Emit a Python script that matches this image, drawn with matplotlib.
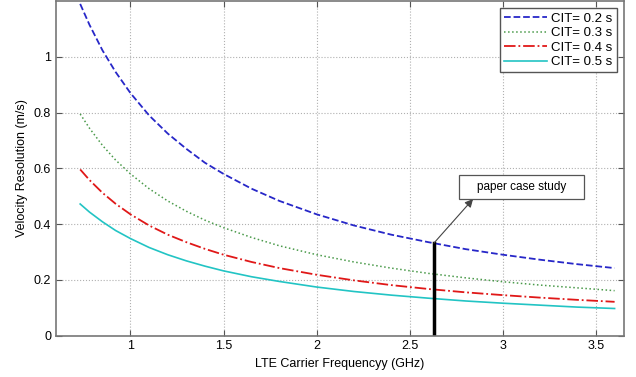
import numpy as np
import matplotlib
matplotlib.use('Agg')
import matplotlib.pyplot as plt
from matplotlib.patches import Rectangle

plt.rcParams['font.family'] = ['Liberation Sans', 'DejaVu Sans']

# carrier frequency (GHz) and velocity resolution (m/s)
freq = [0.73, 0.78, 0.85, 0.92, 1.0, 1.1, 1.2, 1.3, 1.4, 1.5, 1.65, 1.8, 2.0,
        2.2, 2.4, 2.6, 2.8, 3.0, 3.2, 3.4, 3.6]
cit_02 = [1.19, 1.115, 1.023, 0.946, 0.87, 0.79, 0.725, 0.67, 0.62, 0.58, 0.527,
          0.483, 0.435, 0.395, 0.362, 0.335, 0.31, 0.29, 0.272, 0.256, 0.242]
cit_03 = [0.795, 0.744, 0.682, 0.63, 0.58, 0.527, 0.483, 0.446, 0.414, 0.387, 0.352,
          0.322, 0.29, 0.264, 0.242, 0.223, 0.207, 0.193, 0.181, 0.171, 0.161]
cit_04 = [0.596, 0.558, 0.512, 0.473, 0.435, 0.395, 0.362, 0.335, 0.311, 0.29, 0.264,
          0.242, 0.218, 0.198, 0.181, 0.167, 0.155, 0.145, 0.136, 0.128, 0.121]
cit_05 = [0.472, 0.443, 0.408, 0.377, 0.348, 0.316, 0.29, 0.268, 0.249, 0.232, 0.211,
          0.194, 0.174, 0.158, 0.145, 0.134, 0.124, 0.116, 0.109, 0.102, 0.097]

case_freq = 2.63
case_val = 0.332

fig = plt.figure(figsize=(6.36, 3.77), dpi=100)
ax = fig.add_axes([0.088, 0.11, 0.893, 0.887])

ax.plot(freq, cit_02, '--', color='#2727c8', lw=1.3, label='CIT= 0.2 s')
ax.plot(freq, cit_03, ':', color='#4a9a4a', lw=1.1, label='CIT= 0.3 s')
ax.plot(freq, cit_04, '-.', color='#e01818', lw=1.3, label='CIT= 0.4 s')
ax.plot(freq, cit_05, '-', color='#22c4c4', lw=1.2, label='CIT= 0.5 s')

# case study marker
ax.plot([case_freq, case_freq], [0, case_val], color='black', lw=2.5)
ax.annotate('', xy=(2.84, 0.49), xytext=(case_freq, case_val),
            arrowprops=dict(arrowstyle='-|>', color='#444444', lw=0.8,
                            shrinkA=0, shrinkB=0, mutation_scale=12))
ax.add_patch(Rectangle((2.764, 0.49), 0.671, 0.085, fc='white', ec='#555555', lw=0.9, zorder=5))
ax.text(3.10, 0.5325, 'paper case study', fontsize=8.5, ha='center', va='center', zorder=6)

ax.set_xlim(0.6, 3.65)
ax.set_ylim(0, 1.2)
ax.set_xticks([1, 1.5, 2, 2.5, 3, 3.5])
ax.set_xticklabels(['1', '1.5', '2', '2.5', '3', '3.5'])
ax.set_yticks([0, 0.2, 0.4, 0.6, 0.8, 1])
ax.set_yticklabels(['0', '0.2', '0.4', '0.6', '0.8', '1'])
ax.grid(True, linestyle=':', color='#b0b0b0', lw=0.8)
ax.tick_params(direction='in', top=True, right=True, labelsize=9, length=4, colors='#555555', labelcolor='black')
for s in ax.spines.values():
    s.set_color('#777777')
    s.set_linewidth(1.2)

ax.set_xlabel('LTE Carrier Frequencyy (GHz)', fontsize=9)
ax.set_ylabel('Velocity Resolution (m/s)', fontsize=9)

leg = ax.legend(loc='upper right', fontsize=9.5, fancybox=False, framealpha=1,
                edgecolor='#555555', handlelength=3.3, handletextpad=0.3,
                borderpad=0.3, labelspacing=0.18, borderaxespad=0.55)
leg.get_frame().set_linewidth(1.0)

fig.savefig('out.png', dpi=100)
